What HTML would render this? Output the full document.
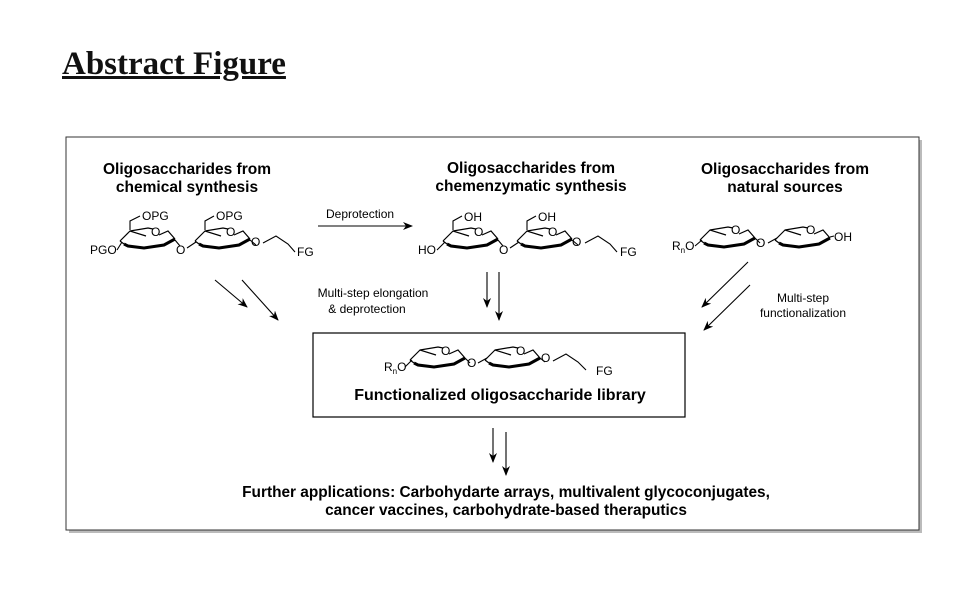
<!DOCTYPE html>
<html><head><style>
body{margin:0;width:964px;height:592px;background:#fff;position:relative;overflow:hidden;font-family:"Liberation Sans",Arial,sans-serif}
.t{position:absolute;left:62px;top:46px;font-family:"Liberation Serif",serif;font-weight:bold;font-size:33px;text-decoration:underline;color:#111}
</style></head><body>
<div class="t">Abstract Figure</div>
<svg width="964" height="592" style="position:absolute;left:0;top:0" font-family="Liberation Sans, Arial, sans-serif">
<defs>
<g id="ch" fill="none" stroke="#000" stroke-width="1.2">
<path d="M0,15 L10,5 L26,10 M39,9 L48,5 L55,13"/>
<path d="M10,5 L28,2 L33,3" />
<path d="M4,18 L8,20 L24,22 L44,19 L55,13" stroke-width="3"/>
<path d="M0,15 L4,18"/>
</g>
<marker id="a" markerWidth="10" markerHeight="8" refX="9" refY="4" orient="auto" markerUnits="userSpaceOnUse"><path d="M0,0 L10,4 L0,8 L3,4z" fill="#000"/></marker>
</defs>
<rect x="69" y="140" width="853" height="393" fill="#bbb"/>
<rect x="66" y="137" width="853" height="393" fill="#fff" stroke="#333" stroke-width="1"/>
<g font-weight="bold" font-size="15.5" text-anchor="middle" fill="#000">
<text x="187" y="174">Oligosaccharides from</text><text x="187" y="192">chemical synthesis</text>
<text x="531" y="173">Oligosaccharides from</text><text x="531" y="191">chemenzymatic synthesis</text>
<text x="785" y="174">Oligosaccharides from</text><text x="785" y="192">natural sources</text>
</g>
<use href="#ch" x="120" y="226"/><use href="#ch" x="195" y="226"/>
<g font-size="12" fill="#000">
<text x="90" y="254">PGO</text><text x="151" y="236">O</text><text x="176" y="254">O</text>
<text x="226" y="236">O</text><text x="251" y="246">O</text><text x="297" y="256">FG</text>
<text x="142" y="220">OPG</text><text x="216" y="220">OPG</text>
</g>
<path d="M117,250 L122,242 M130,230 L130,221 L140,216 M205,230 L205,221 L214,216 M187,248 L196,242 M175,240 L180,246 M250,240 L256,245 M263,243 L276,236 L288,244 L295,252" fill="none" stroke="#000" stroke-width="1.1"/>
<use href="#ch" x="443" y="226"/><use href="#ch" x="517" y="226"/>
<g font-size="12" fill="#000">
<text x="418" y="254">HO</text><text x="474" y="236">O</text><text x="499" y="254">O</text>
<text x="548" y="236">O</text><text x="572" y="246">O</text><text x="620" y="256">FG</text>
<text x="464" y="221">OH</text><text x="538" y="221">OH</text>
</g>
<path d="M437,250 L445,242 M453,230 L453,221 L462,216 M527,230 L527,221 L536,216 M510,248 L519,242 M498,240 L503,246 M572,240 L578,245 M585,243 L598,236 L610,244 L617,252" fill="none" stroke="#000" stroke-width="1.1"/>
<use href="#ch" x="700" y="225"/><use href="#ch" x="775" y="225"/>
<g font-size="12" fill="#000">
<text x="672" y="250">R<tspan font-size="8" dy="3">n</tspan><tspan dy="-3">O</tspan></text><text x="731" y="234">O</text><text x="756" y="247">O</text>
<text x="806" y="234">O</text><text x="834" y="241">OH</text>
</g>
<path d="M695,246 L702,240 M755,238 L760,243 M768,243 L777,238 M830,237 L834,236" fill="none" stroke="#000" stroke-width="1.1"/>
<text x="326" y="218" font-size="12">Deprotection</text>
<line x1="318" y1="226" x2="412" y2="226" stroke="#000" stroke-width="1.1" marker-end="url(#a)"/>
<g stroke="#000" stroke-width="1.1" marker-end="url(#a)">
<line x1="215" y1="280" x2="247" y2="307"/><line x1="242" y1="280" x2="278" y2="320"/>
<line x1="487" y1="272" x2="487" y2="307"/><line x1="499" y1="272" x2="499" y2="320"/>
<line x1="748" y1="262" x2="702" y2="307"/><line x1="750" y1="285" x2="704" y2="330"/>
<line x1="493" y1="428" x2="493" y2="462"/><line x1="506" y1="432" x2="506" y2="475"/>
</g>
<g font-size="12" text-anchor="middle">
<text x="373" y="297">Multi-step elongation</text><text x="367" y="313">&amp; deprotection</text>
<text x="803" y="302">Multi-step</text><text x="803" y="317">functionalization</text>
</g>
<rect x="313" y="333" width="372" height="84" fill="#fff" stroke="#000" stroke-width="1.2"/>
<use href="#ch" x="410" y="345"/><use href="#ch" x="485" y="345"/>
<g font-size="12">
<text x="384" y="371">R<tspan font-size="8" dy="3">n</tspan><tspan dy="-3">O</tspan></text><text x="441" y="355">O</text><text x="467" y="367">O</text>
<text x="516" y="355">O</text><text x="541" y="362">O</text><text x="596" y="375">FG</text>
</g>
<path d="M405,367 L412,360 M465,358 L470,363 M478,363 L487,358 M540,358 L545,362 M553,361 L566,354 L578,362 L586,370" fill="none" stroke="#000" stroke-width="1.1"/>
<text x="500" y="400" font-size="16" font-weight="bold" text-anchor="middle">Functionalized oligosaccharide library</text>
<g font-size="15.4" font-weight="bold" text-anchor="middle">
<text x="506" y="497">Further applications: Carbohydarte arrays, multivalent glycoconjugates,</text>
<text x="506" y="515">cancer vaccines, carbohydrate-based theraputics</text>
</g>
</svg>
</body></html>
